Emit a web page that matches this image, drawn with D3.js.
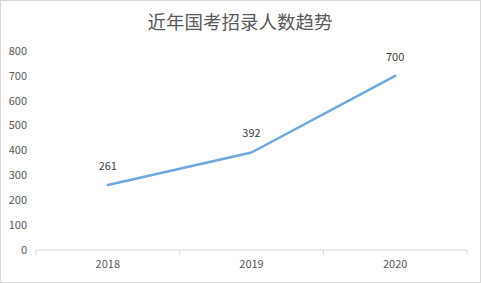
<!DOCTYPE html>
<html>
<head>
<meta charset="utf-8">
<script src="https://cdn.jsdelivr.net/npm/d3@7"></script>
<style>
  body { margin: 0; background: #fff; }
  svg { display: block; font-family: "Microsoft YaHei", "Noto Sans CJK SC", "DejaVu Sans", sans-serif; }
</style>
</head>
<body>
<script>
const title = "近年国考招录人数趋势";
const years = ["2018", "2019", "2020"];
const counts = [261, 392, 700];
const yTicks = [0, 100, 200, 300, 400, 500, 600, 700, 800];

const width = 481, height = 283;
const margin = {top: 51, right: 14, bottom: 33, left: 36};

const svg = d3.select("body").append("svg")
    .attr("width", width)
    .attr("height", height);

svg.append("rect")
    .attr("x", 0.5).attr("y", 0.5)
    .attr("width", width - 1).attr("height", height - 1)
    .attr("fill", "#fff")
    .attr("stroke", "#d9d9d9");

svg.append("text")
    .attr("x", 240).attr("y", 29)
    .attr("text-anchor", "middle")
    .attr("font-size", 18.5)
    .attr("fill", "#595959")
    .text(title);

const x = d3.scaleBand()
    .domain(years)
    .range([margin.left, width - margin.right]);

const y = d3.scaleLinear()
    .domain([0, 800])
    .range([height - margin.bottom, margin.top]);

// y labels (no axis line)
svg.append("g")
    .attr("font-size", 11)
    .attr("fill", "#595959")
    .selectAll("text")
    .data(yTicks)
    .join("text")
    .attr("x", 27)
    .attr("y", d => y(d))
    .attr("dy", "0.35em")
    .attr("text-anchor", "end")
    .text(d => d);

// x axis
const xAxis = svg.append("g")
    .attr("transform", `translate(0,${y(0)})`);
xAxis.append("line")
    .attr("x1", margin.left).attr("x2", width - margin.right)
    .attr("stroke", "#d9d9d9");
xAxis.selectAll(".tk")
    .data(d3.range(years.length + 1))
    .join("line")
    .attr("class", "tk")
    .attr("x1", i => margin.left + i * x.step())
    .attr("x2", i => margin.left + i * x.step())
    .attr("y1", 0).attr("y2", 5)
    .attr("stroke", "#d9d9d9");
xAxis.selectAll("text")
    .data(years)
    .join("text")
    .attr("x", d => x(d) + x.bandwidth() / 2)
    .attr("y", 18)
    .attr("text-anchor", "middle")
    .attr("font-size", 11)
    .attr("fill", "#595959")
    .text(d => d);

const pts = years.map((d, i) => [x(d) + x.bandwidth() / 2, y(counts[i])]);

svg.append("path")
    .attr("d", d3.line()(pts))
    .attr("fill", "none")
    .attr("stroke", "#6fa8dc")
    .attr("stroke-width", 2.5)
    .attr("stroke-linejoin", "round")
    .attr("stroke-linecap", "round");

svg.append("g")
    .attr("font-size", 11)
    .attr("fill", "#404040")
    .selectAll("text")
    .data(counts)
    .join("text")
    .attr("x", (d, i) => pts[i][0])
    .attr("y", (d, i) => pts[i][1] - 15)
    .attr("text-anchor", "middle")
    .text(d => d);
</script>
</body>
</html>
